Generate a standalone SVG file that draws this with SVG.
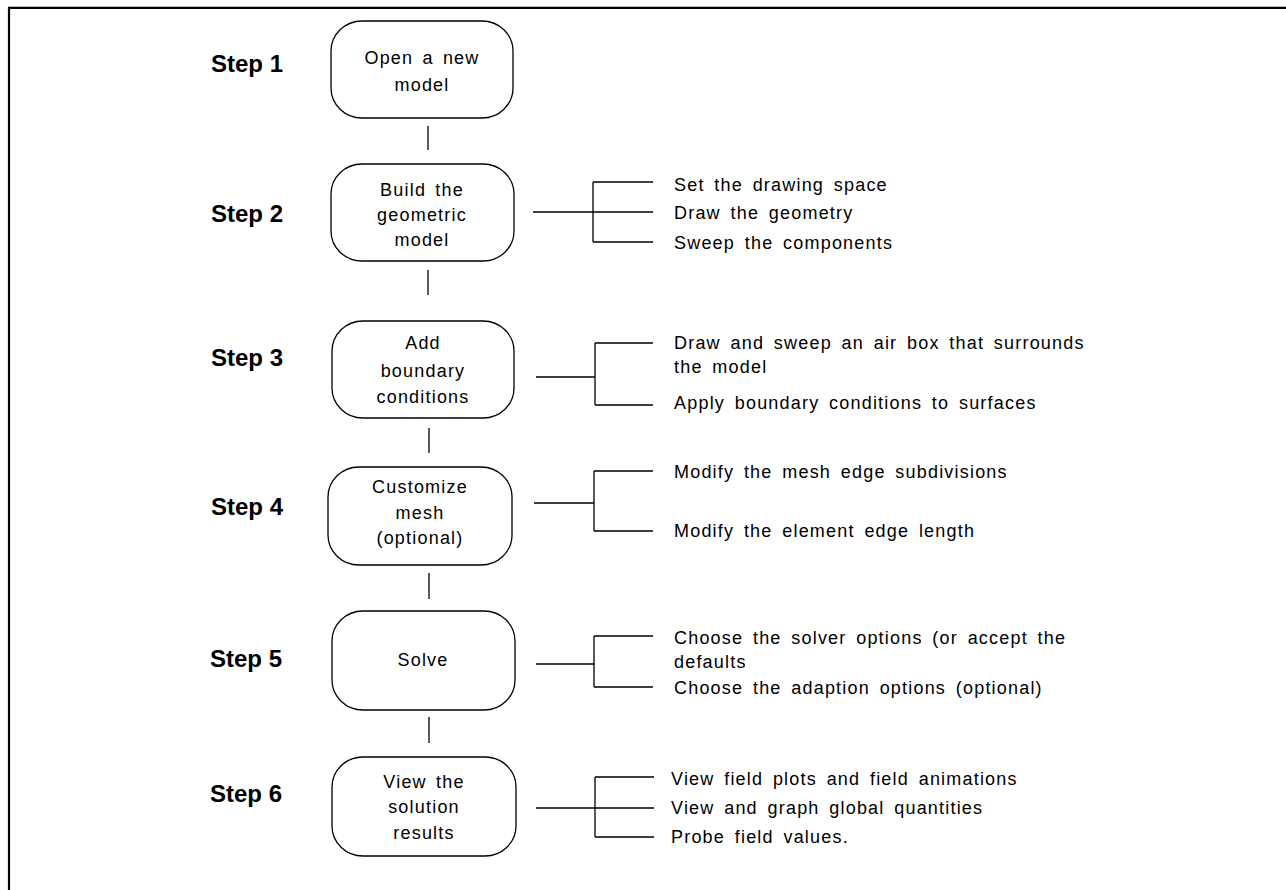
<svg xmlns="http://www.w3.org/2000/svg" width="1286" height="890" viewBox="0 0 1286 890">
<style>
.bg{fill:#fff}
.frame{fill:none;stroke:#000;stroke-width:2.2}
.node{fill:#fff;stroke:#000;stroke-width:1.3}
.ln{fill:none;stroke:#000;stroke-width:1.3}
.step{font-family:"Liberation Sans",Arial,sans-serif;font-weight:bold;font-size:24px;fill:#000}
.nt{font-family:"Liberation Sans",Arial,sans-serif;font-size:18px;letter-spacing:1.2px;word-spacing:3px;fill:#000;text-anchor:middle}
.it{font-family:"Liberation Sans",Arial,sans-serif;font-size:18px;letter-spacing:1.2px;word-spacing:3.5px;fill:#000}
</style>
<rect class="bg" x="0" y="0" width="1286" height="890"/>
<path class="frame" d="M9 891 V7.8 H1287"/>

<g id="labels">
<text class="step" x="211" y="72">Step 1</text>
<text class="step" x="211" y="222">Step 2</text>
<text class="step" x="211" y="366">Step 3</text>
<text class="step" x="211" y="515">Step 4</text>
<text class="step" x="210" y="667">Step 5</text>
<text class="step" x="210" y="802">Step 6</text>
</g>

<g id="node1">
<rect class="node" x="331" y="21" width="182" height="97" rx="31" ry="30"/>
<text class="nt" x="422" y="64">Open a new</text>
<text class="nt" x="422" y="91">model</text>
</g>
<g id="node2">
<rect class="node" x="331" y="164" width="183" height="97" rx="31" ry="30"/>
<text class="nt" x="422" y="196">Build the</text>
<text class="nt" x="422" y="221">geometric</text>
<text class="nt" x="422" y="246">model</text>
</g>
<g id="node3">
<rect class="node" x="332" y="321" width="182" height="97" rx="31" ry="30"/>
<text class="nt" x="423" y="349">Add</text>
<text class="nt" x="423" y="377">boundary</text>
<text class="nt" x="423" y="403">conditions</text>
</g>
<g id="node4">
<rect class="node" x="328" y="467" width="184" height="98" rx="31" ry="30"/>
<text class="nt" x="420" y="493">Customize</text>
<text class="nt" x="420" y="519">mesh</text>
<text class="nt" x="420" y="544">(optional)</text>
</g>
<g id="node5">
<rect class="node" x="332" y="611" width="183" height="99" rx="31" ry="30"/>
<text class="nt" x="423" y="666">Solve</text>
</g>
<g id="node6">
<rect class="node" x="332" y="757" width="184" height="99" rx="31" ry="30"/>
<text class="nt" x="424" y="788">View the</text>
<text class="nt" x="424" y="813">solution</text>
<text class="nt" x="424" y="839">results</text>
</g>

<g id="connectors">
<path class="ln" d="M428 126 V150"/>
<path class="ln" d="M428 270 V295"/>
<path class="ln" d="M429 428 V453"/>
<path class="ln" d="M429 573 V599"/>
<path class="ln" d="M429 717 V743"/>
<path class="ln" d="M533 212 H593 M593 182 V242 M593 182 H653 M593 212 H653 M593 242 H653"/>
<path class="ln" d="M536 377 H595 M595 343 V405 M595 343 H653 M595 405 H653"/>
<path class="ln" d="M534 503 H594 M594 471 V531 M594 471 H653 M594 531 H653"/>
<path class="ln" d="M536 664 H594 M594 636 V687 M594 636 H653 M594 687 H653"/>
<path class="ln" d="M536 808 H595 M595 777 V837 M595 777 H654 M595 808 H654 M595 837 H654"/>
</g>

<g id="items">
<text class="it" x="674" y="191">Set the drawing space</text>
<text class="it" x="674" y="219">Draw the geometry</text>
<text class="it" x="674" y="249">Sweep the components</text>
<text class="it" x="674" y="349">Draw and sweep an air box that surrounds</text>
<text class="it" x="674" y="373">the model</text>
<text class="it" x="674" y="409">Apply boundary conditions to surfaces</text>
<text class="it" x="674" y="478">Modify the mesh edge subdivisions</text>
<text class="it" x="674" y="537">Modify the element edge length</text>
<text class="it" x="674" y="644">Choose the solver options (or accept the</text>
<text class="it" x="674" y="668">defaults</text>
<text class="it" x="674" y="694">Choose the adaption options (optional)</text>
<text class="it" x="671" y="785">View field plots and field animations</text>
<text class="it" x="671" y="814">View and graph global quantities</text>
<text class="it" x="671" y="843">Probe field values.</text>
</g>
</svg>
